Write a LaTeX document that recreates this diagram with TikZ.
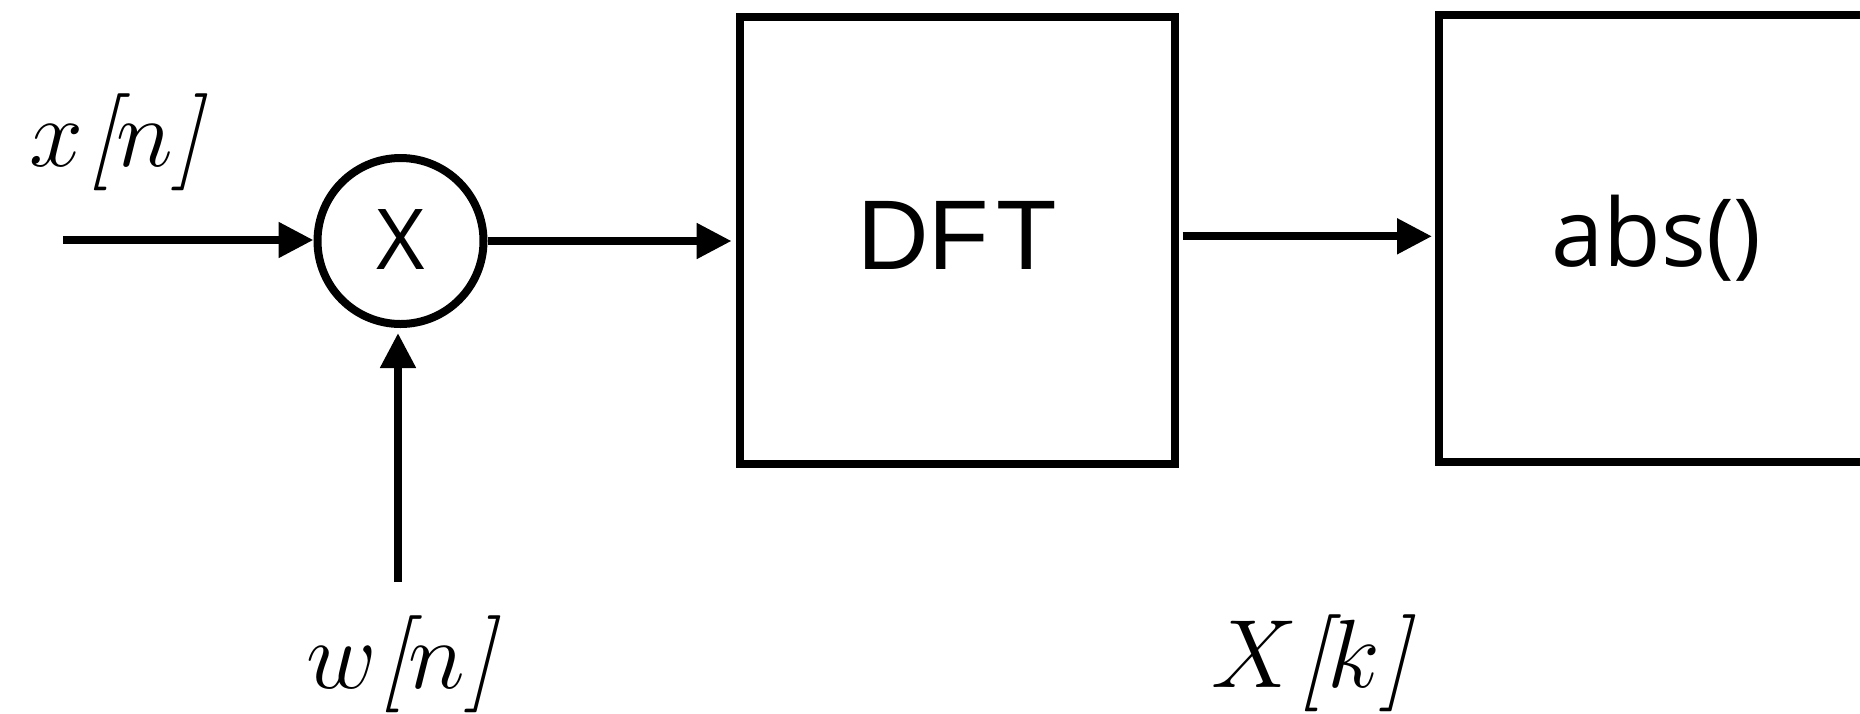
\RequirePackage{fix-cm}
\documentclass[tikz,border=0pt]{standalone}
\usepackage{fontspec}
\newfontfamily\blockfont{Liberation Sans}
\newfontfamily\humanfont{Open Sans}
\usetikzlibrary{arrows.meta}
\begin{document}
\begin{tikzpicture}[x=1pt,y=-1pt,line width=8pt,
  arr/.style={-{Triangle[length=35pt,width=34pt]}},
  blockbox/.style={draw,rectangle,minimum width=435pt,minimum height=447pt,inner sep=0pt},
  multnode/.style={draw,circle,minimum size=166pt,inner sep=0pt},
  mathlabel/.style={inner sep=0pt,anchor=base,font=\fontsize{97}{100}\selectfont\itshape},
]
\useasboundingbox (0,0) rectangle (1860,713);
\clip (0,0) rectangle (1860,713);

\node[multnode,font=\humanfont\fontsize{84}{90}\selectfont,text height=59pt,text depth=3pt] (mult) at (400.5,241) {X};
\node[blockbox,font=\blockfont\fontsize{99}{100}\selectfont,text height=71pt,text depth=14pt] (dft) at (957.1,240.8) {DF\kern7pt T};
\node[blockbox,font=\humanfont\fontsize{94}{100}\selectfont,text height=71pt,text depth=16pt] (abs) at (1656.5,238.5) {abs()};

\node[mathlabel] (xlab) at (116,166) {$x$\kern4pt[$n$\kern1pt]};
\node[mathlabel] (wlab) at (401,688) {$w$\kern2pt[$n$\kern1pt]};
\node[mathlabel] (Xlab) at (1311,687) {$X$[$k$\kern1pt]};

\coordinate (xin) at (63,240);
\coordinate (win) at (398,582);

\draw[arr] (xin) -- (xin -| mult.west);
\draw[arr,shorten >=5pt] (win) -- (win |- mult.south);
\draw[arr,shorten >=4pt] (mult.east) -- (mult.east -| dft.west);
\draw[arr,shorten <=4pt,shorten >=3pt] ([yshift=4.5pt]dft.east) -- ([yshift=4.5pt]dft.east -| abs.west);
\end{tikzpicture}
\end{document}
